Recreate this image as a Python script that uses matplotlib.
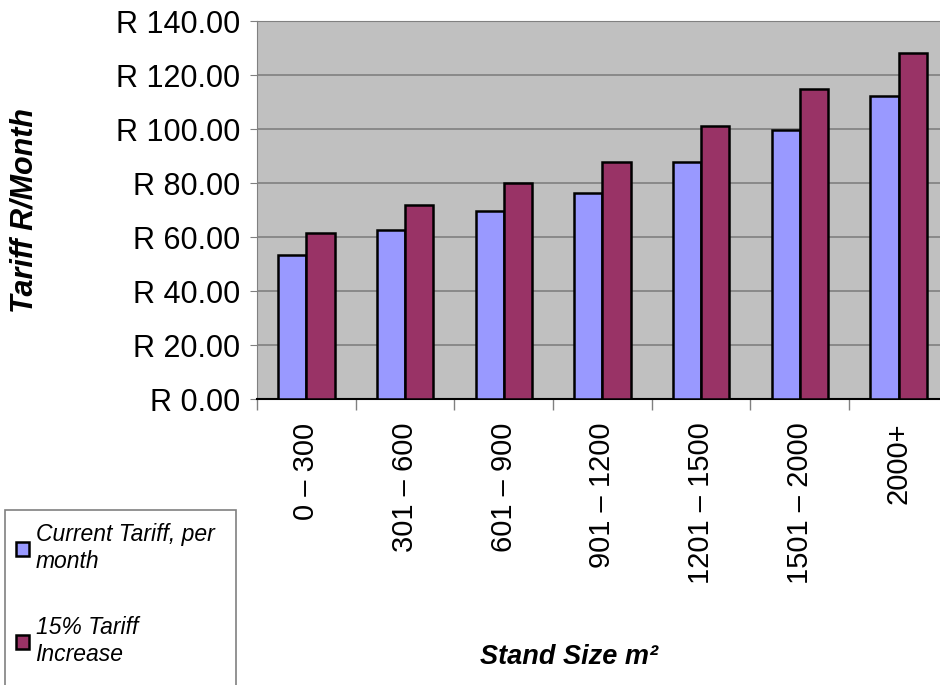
import numpy as np
import matplotlib.pyplot as plt
from matplotlib.patches import Rectangle
from matplotlib.ticker import FixedLocator

plt.rcParams['font.family'] = ['Liberation Sans', 'DejaVu Sans']

categories = ['0 – 300', '301 – 600', '601 – 900', '901 – 1200',
              '1201 – 1500', '1501 – 2000', '2000+']
current = [53.4, 62.6, 69.5, 76.4, 87.9, 99.6, 112.2]
increase = [61.5, 72.0, 79.9, 87.8, 101.3, 114.7, 128.0]
series_names = ['Current Tariff, per\nmonth', '15% Tariff\nIncrease']
yticks = [0, 20, 40, 60, 80, 100, 120, 140]

fig = plt.figure(figsize=(9.4, 6.85), dpi=100)
ax = fig.add_axes([0.2734, 0.4175, 0.735, 0.5518])
ax.set_facecolor('#C0C0C0')

x = np.arange(len(categories))
w = 1 / 3.5
b1 = ax.bar(x - w / 2, current, w, color='#9999FF', edgecolor='black', linewidth=1.8, zorder=3)
b2 = ax.bar(x + w / 2, increase, w, color='#993366', edgecolor='black', linewidth=1.8, zorder=3)

ax.set_xlim(-0.5, len(categories) - 0.5)
ax.set_ylim(0, 140)
ax.set_yticks(yticks)
ax.set_yticklabels(['R %.2f' % v for v in yticks], fontsize=22)
ax.yaxis.grid(True, color='#808080', linewidth=1.2, zorder=0)

ax.set_xticks(x)
ax.set_xticklabels(categories, rotation=90, fontsize=21)
ax.xaxis.set_minor_locator(FixedLocator(np.arange(-0.5, len(categories), 1)))
ax.tick_params(axis='x', which='major', length=0, pad=17)
ax.tick_params(axis='x', which='minor', length=8, color='#808080', width=1)
ax.tick_params(axis='y', length=5, color='#808080', pad=7)

for s in ['top', 'right']:
    ax.spines[s].set_color('#808080')
ax.spines['left'].set_color('#808080')
ax.spines['bottom'].set_color('black')
ax.spines['bottom'].set_linewidth(1.5)

ax.set_ylabel('Tariff R/Month', fontsize=22, fontweight='bold', style='italic')
ax.yaxis.set_label_coords(-0.3155, 0.5)
fig.text(0.605, 0.022, 'Stand Size m²', fontsize=19.5, fontweight='bold', style='italic',
         ha='center', va='bottom')

# legend frame
fig.patches.append(Rectangle((5 / 940, -0.05), 231 / 940, 0.05 + (1 - 510 / 685),
                             transform=fig.transFigure, facecolor='white',
                             edgecolor='#808080', linewidth=1.2, zorder=0))
leg = fig.legend([b1, b2], series_names, loc='upper left',
                 bbox_to_anchor=(0.0, 0.26), frameon=False,
                 prop={'size': 16.5, 'style': 'italic'}, handlelength=0.55,
                 handleheight=0.55, handletextpad=0.3, labelspacing=1.9,
                 borderpad=0.2)

fig.savefig('out.png', dpi=100)
